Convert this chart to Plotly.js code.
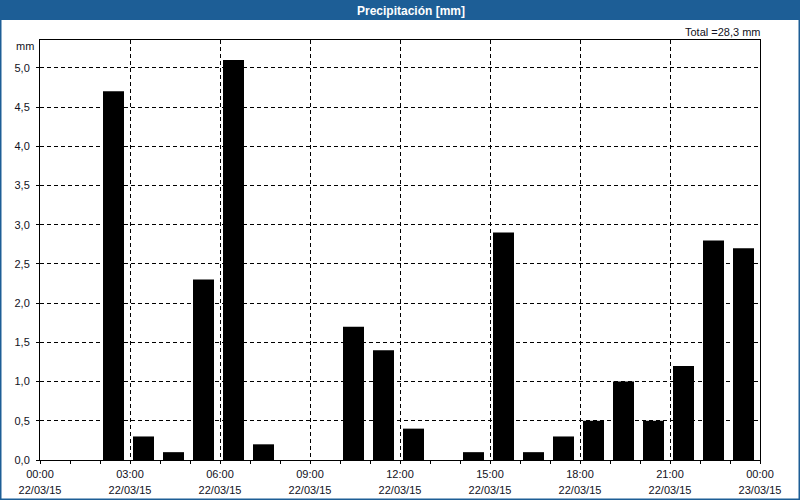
<!DOCTYPE html>
<html>
<head>
<meta charset="utf-8">
<script src="https://cdn.plot.ly/plotly-3.0.1.min.js"></script>
<style>
html,body{margin:0;padding:0;background:#fff;}
#chart{width:800px;height:500px;}
</style>
</head>
<body>
<div id="chart"></div>
<script>
var hourStarts = ['2015-03-22 00:00','2015-03-22 01:00','2015-03-22 02:00','2015-03-22 03:00',
  '2015-03-22 04:00','2015-03-22 05:00','2015-03-22 06:00','2015-03-22 07:00',
  '2015-03-22 08:00','2015-03-22 09:00','2015-03-22 10:00','2015-03-22 11:00',
  '2015-03-22 12:00','2015-03-22 13:00','2015-03-22 14:00','2015-03-22 15:00',
  '2015-03-22 16:00','2015-03-22 17:00','2015-03-22 18:00','2015-03-22 19:00',
  '2015-03-22 20:00','2015-03-22 21:00','2015-03-22 22:00','2015-03-22 23:00'];
var precipitation = [0, 0, 4.7, 0.3, 0.1, 2.3, 5.1, 0.2, 0, 0, 1.7, 1.4,
  0.4, 0, 0.1, 2.9, 0.1, 0.3, 0.5, 1.0, 0.5, 1.2, 2.8, 2.7];
var tickValues = ['2015-03-22 00:00','2015-03-22 03:00','2015-03-22 06:00','2015-03-22 09:00',
  '2015-03-22 12:00','2015-03-22 15:00','2015-03-22 18:00','2015-03-22 21:00','2015-03-23 00:00'];
var tickTimes = ['00:00','03:00','06:00','09:00','12:00','15:00','18:00','21:00','00:00'];
var tickDates = ['22/03/15','22/03/15','22/03/15','22/03/15','22/03/15','22/03/15','22/03/15','22/03/15','23/03/15'];
var totalLabel = 'Total =28,3 mm';
var chartTitle = 'Precipitación [mm]';
var unitLabel = 'mm';

var HOUR = 3600000;
var xRange = ['2015-03-22 00:00', '2015-03-23 00:00'];

var blue = '#1d5e96';
var txt = '#111122';
var font = 'Liberation Sans, Arial, sans-serif';

var trace = {
  type: 'bar',
  x: hourStarts,
  y: precipitation,
  width: 0.7 * HOUR,
  offset: 0.1 * HOUR,
  marker: {color: '#000000', line: {width: 0}},
  hoverinfo: 'x+y'
};

// invisible companion trace so the second (date-label) x axis is drawn
var dateAxisTrace = {
  type: 'scatter',
  mode: 'markers',
  x: hourStarts,
  y: precipitation,
  xaxis: 'x2',
  yaxis: 'y',
  marker: {opacity: 0, size: 1},
  hoverinfo: 'skip',
  showlegend: false
};

var layout = {
  width: 800, height: 500,
  margin: {l: 40, r: 40, t: 40, b: 40},
  paper_bgcolor: '#ffffff',
  plot_bgcolor: '#ffffff',
  showlegend: false,
  font: {family: font, size: 11, color: txt},
  title: {
    text: '<b>' + chartTitle + '</b>',
    font: {family: font, size: 12, color: '#ffffff'},
    x: 0.5153, xref: 'paper', xanchor: 'center',
    y: 0.979, yref: 'container', yanchor: 'middle'
  },
  xaxis: {
    type: 'date',
    range: xRange,
    tickmode: 'array',
    tickvals: tickValues,
    ticktext: tickTimes,
    ticks: 'outside', ticklen: 3, tickwidth: 1, tickcolor: '#000',
    ticklabelstandoff: 1,
    showline: true, linecolor: '#000', linewidth: 1, mirror: true,
    showgrid: true, gridcolor: '#000', gridwidth: 1, griddash: '4px,3px',
    minor: {dtick: HOUR, ticks: 'outside', ticklen: 3, tickcolor: '#000', showgrid: false},
    zeroline: false,
    tickfont: {family: font, size: 11, color: txt},
    fixedrange: true
  },
  xaxis2: {
    type: 'date',
    range: xRange,
    overlaying: 'x', anchor: 'y', side: 'bottom',
    tickmode: 'array',
    tickvals: tickValues,
    ticktext: tickDates,
    ticks: 'outside', ticklen: 3, tickcolor: 'rgba(0,0,0,0)',
    ticklabelstandoff: 17,
    showline: false, showgrid: false, zeroline: false,
    tickfont: {family: font, size: 11, color: txt},
    fixedrange: true
  },
  yaxis: {
    range: [0, 5.355],
    tickmode: 'linear', tick0: 0, dtick: 0.5,
    tickformat: '.1f',
    ticks: 'outside', ticklen: 3, tickwidth: 1, tickcolor: '#000',
    ticklabelstandoff: 4,
    showline: true, linecolor: '#000', linewidth: 1, mirror: true,
    showgrid: true, gridcolor: '#000', gridwidth: 1, griddash: '4px,3px',
    zeroline: false,
    tickfont: {family: font, size: 11, color: txt},
    fixedrange: true
  },
  separators: ',.',
  shapes: [
    {type: 'rect', xref: 'paper', yref: 'paper', layer: 'below',
     x0: -0.06, x1: 1.06, y0: 1.0476, y1: 1.1, fillcolor: blue, line: {width: 0}},
    {type: 'line', xref: 'paper', yref: 'paper',
     x0: -0.05486, x1: -0.05486, y0: -0.1, y1: 1.05, line: {color: blue, width: 2}},
    {type: 'line', xref: 'paper', yref: 'paper',
     x0: 1.05486, x1: 1.05486, y0: -0.1, y1: 1.05, line: {color: blue, width: 2}},
    {type: 'line', xref: 'paper', yref: 'paper',
     x0: -0.06, x1: 1.06, y0: -0.0940, y1: -0.0940, line: {color: blue, width: 2}}
  ],
  annotations: [
    {text: unitLabel, xref: 'paper', yref: 'paper', x: -0.0056, y: 0.9857,
     xanchor: 'right', yanchor: 'middle', showarrow: false,
     font: {family: font, size: 11, color: txt}},
    {text: totalLabel, xref: 'paper', yref: 'paper', x: 1.0037, y: 1.019,
     xanchor: 'right', yanchor: 'middle', showarrow: false,
     font: {family: font, size: 11, color: txt}}
  ]
};

Plotly.newPlot('chart', [trace, dateAxisTrace], layout, {displayModeBar: false, staticPlot: true});
</script>
</body>
</html>
